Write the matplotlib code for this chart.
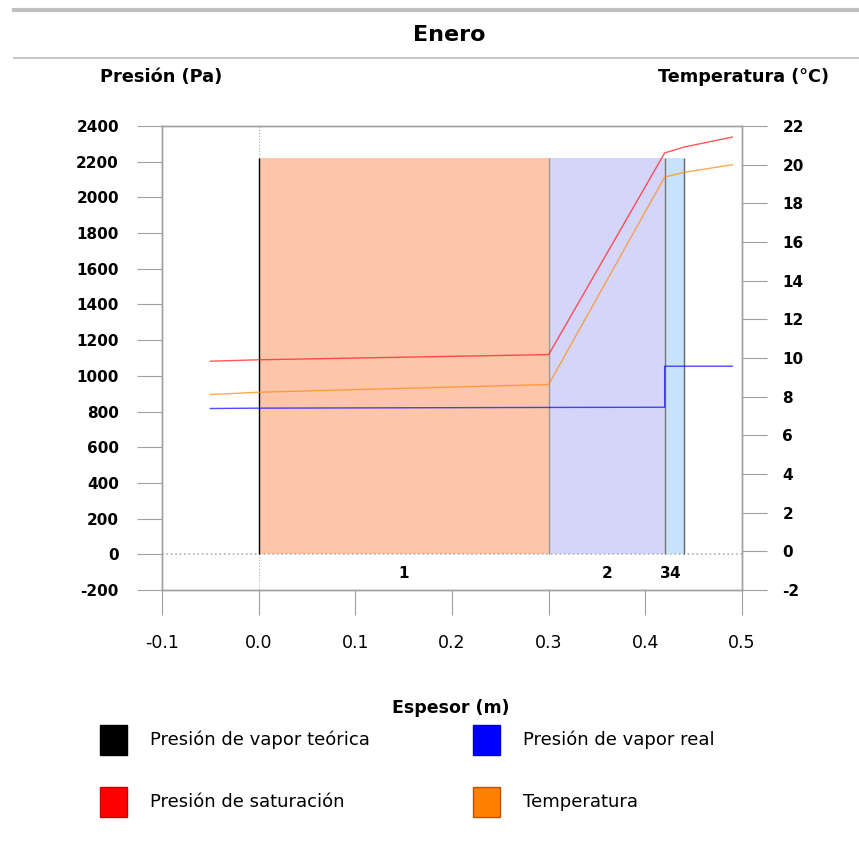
import matplotlib.pyplot as plt
from matplotlib.patches import Rectangle
from matplotlib.lines import Line2D

# layers (espesor, m)
layer_left = [0.0, 0.3, 0.42, 0.421]
layer_width = [0.3, 0.12, 0.001, 0.019]
layer_names = ["1", "2", "3", "4"]
layer_colors = ["#fca073", "#b9b9f7", "#a3cff8", "#a3cff8"]
layer_edge_x = [0.0, 0.3, 0.42, 0.44]
layer_edge_c = ["#000000", "#999999", "#777777", "#666666"]
layer_top = 2220

# presion de saturacion (Pa)
x_sat = [-0.05, 0.0, 0.3, 0.42, 0.44, 0.49]
p_sat = [1082, 1090, 1119, 2249, 2282, 2338]

# temperatura (C)
x_temp = [-0.05, 0.0, 0.3, 0.42, 0.44, 0.49]
temp = [8.11, 8.23, 8.63, 19.36, 19.6, 20.0]

# presion de vapor real (Pa)
x_real = [-0.05, 0.0, 0.3, 0.42, 0.42, 0.49]
p_real = [817, 819, 823, 824, 1054, 1054]

x_ticks = [-0.1, 0.0, 0.1, 0.2, 0.3, 0.4, 0.5]
p_ticks = list(range(-200, 2401, 200))
t_ticks = list(range(-2, 23, 2))

legend_names = ["Presión de vapor teórica", "Presión de vapor real",
                "Presión de saturación", "Temperatura"]
legend_colors = ["#000000", "#0000ff", "#ff0000", "#ff8000"]
legend_edges = ["#000000", "#0000cc", "#cc0000", "#c05000"]

W, H = 859, 843
plt.rcParams["font.family"] = ["DejaVu Sans"]
plt.rcParams["axes.unicode_minus"] = False
fig = plt.figure(figsize=(W / 100, H / 100), dpi=100)

grey = "#a0a0a0"
ax = fig.add_axes([162 / W, 1 - 590 / H, 580 / W, 464 / H])
ax2 = ax.twinx()

# layers
ax.bar(layer_left, [layer_top] * len(layer_left), width=layer_width, align="edge",
       color=layer_colors, alpha=0.6, linewidth=0, zorder=2)
ax.vlines(layer_edge_x, 0, layer_top, colors=layer_edge_c, linewidth=1, zorder=3)
for left, w, name in zip(layer_left, layer_width, layer_names):
    ax.text(left + w / 2, -105, name, ha="center", va="center",
            fontsize=11, fontweight="bold")

ax.axvline(0, color="#b0b0b0", linestyle=":", linewidth=0.8, zorder=1)
ax.axhline(0, color="#b0b0b0", linestyle=":", linewidth=1.2, zorder=1)

ax.plot(x_sat, p_sat, color="#ff2020", linewidth=1, alpha=0.75, zorder=4)
ax.plot(x_real, p_real, color="#1010ff", linewidth=1, alpha=0.75, zorder=4)
ax2.plot(x_temp, temp, color="#ff8c1a", linewidth=1, alpha=0.75)

ax.set_xlim(-0.1, 0.5)
ax.set_ylim(-200, 2400)
ax2.set_ylim(-2, 22)
ax.set_xticks(x_ticks)
ax.set_xticklabels(["%.1f" % v for v in x_ticks])
ax.set_yticks(p_ticks)
ax2.set_yticks(t_ticks)

for a in (ax, ax2):
    for s in a.spines.values():
        s.set_color(grey)
        s.set_linewidth(1)
ax.tick_params(axis="y", length=18, color=grey, pad=13, labelsize=11)
ax.tick_params(axis="x", length=18, color=grey, pad=14, labelsize=12.5)
ax2.tick_params(axis="y", length=18, color=grey, pad=11, labelsize=11)
for lab in ax.get_yticklabels() + ax2.get_yticklabels():
    lab.set_fontweight("bold")

# header
def fy(py):
    return 1 - py / H

fig.add_artist(Line2D([14 / W, 1], [fy(10), fy(10)], color="#c0c0c0", linewidth=3))
fig.add_artist(Line2D([14 / W, 1], [fy(58), fy(58)], color="#c8c8c8", linewidth=1.5))
fig.text(449 / W, fy(35), "Enero", ha="center", va="center", fontsize=16, fontweight="bold")
fig.text(161 / W, fy(77), "Presión (Pa)", ha="center", va="center", fontsize=12.8, fontweight="bold")
fig.text(743 / W, fy(77), "Temperatura (°C)", ha="center", va="center", fontsize=12.7, fontweight="bold")
fig.text(451 / W, fy(708), "Espesor (m)", ha="center", va="center", fontsize=12.5, fontweight="bold")

# legend
box_x = [100, 473, 100, 473]
box_y = [740, 740, 802, 802]
for name, c, ec, bx, by in zip(legend_names, legend_colors, legend_edges, box_x, box_y):
    fig.add_artist(Rectangle((bx / W, fy(by + 15)), 27 / W, 30 / H,
                             facecolor=c, edgecolor=ec, linewidth=1))
    fig.text((bx + 50) / W, fy(by), name, ha="left", va="center", fontsize=13)

fig.savefig("out.png", dpi=100)
